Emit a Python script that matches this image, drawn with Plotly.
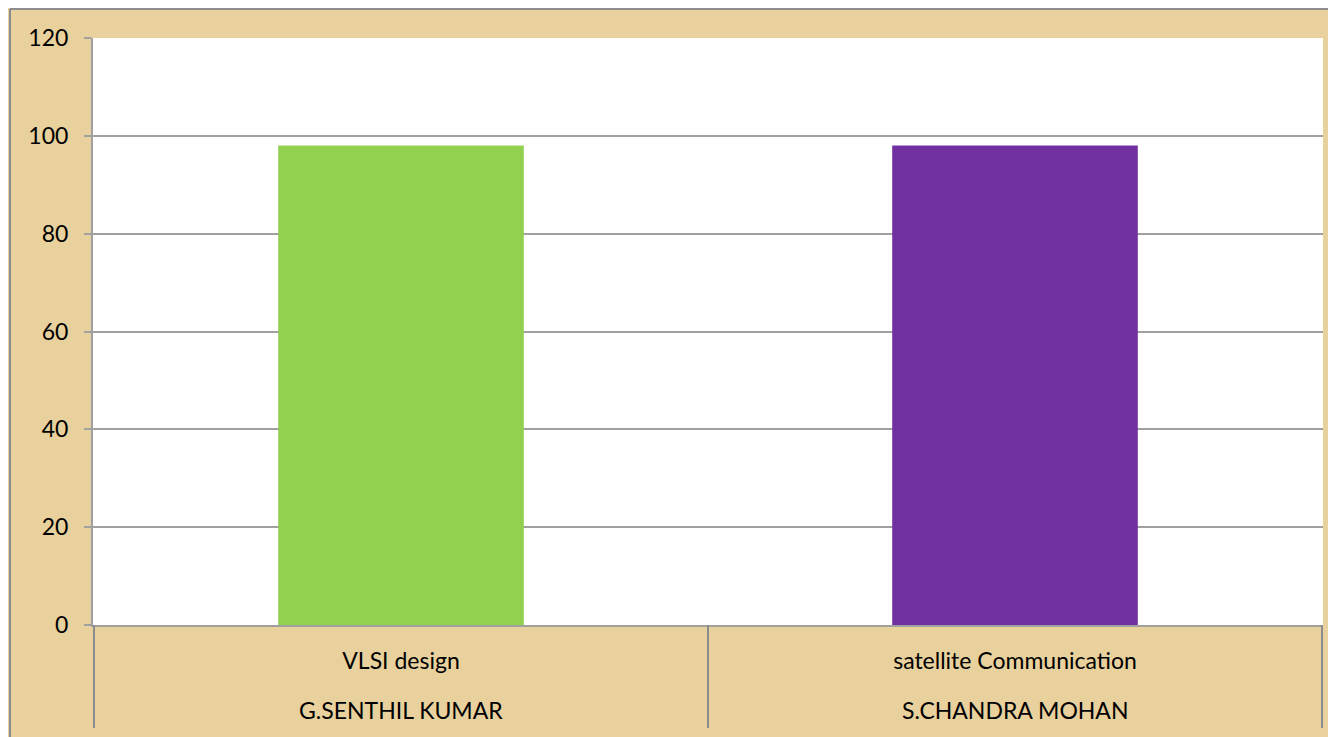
import plotly.graph_objects as go

subjects = ["VLSI design", "satellite Communication"]
staff = ["G.SENTHIL KUMAR", "S.CHANDRA MOHAN"]
scores = [98, 98]
bar_colors = ["#92D050", "#7030A0"]

# page has an 8px body margin; plot area sits at x 93..1323, y 38..625
PLOT_W = 1230
PLOT_H = 587

fig = go.Figure()
fig.add_trace(go.Bar(
    x=subjects,
    y=scores,
    marker=dict(color=bar_colors, line_width=0),
    width=0.4,
))

fig.update_layout(
    width=1328, height=729,
    margin=dict(l=85, r=13, t=30, b=112),
    paper_bgcolor="#E8D19D",
    plot_bgcolor="white",
    font=dict(family="Lato, Open Sans, sans-serif", size=23, color="black"),
    showlegend=False,
)
fig.update_yaxes(
    range=[0, 120], dtick=20,
    showgrid=True, gridcolor="#A0A0A0", gridwidth=2,
    showline=True, linecolor="#A0A0A0", linewidth=2,
    ticks="outside", ticklen=7, tickcolor="#A0A0A0", tickwidth=2,
    ticklabelstandoff=11,
    zeroline=False,
)
fig.update_xaxes(
    type="category",
    showline=True, linecolor="#A0A0A0", linewidth=2,
    ticks="", ticklabelstandoff=14,
)

# second label row (staff names) under each subject
for subj, name in zip(subjects, staff):
    fig.add_annotation(x=subj, xref="x", y=-85 / PLOT_H, yref="paper",
                       text=name, showarrow=False, yanchor="middle",
                       font=dict(size=23))

# category dividers
for xd in [-0.5, 0.5, 1.5]:
    fig.add_shape(type="line", xref="x", yref="paper",
                  x0=xd, x1=xd, y0=0, y1=-103 / PLOT_H,
                  line=dict(color="#8C8C8C", width=2))

# outer chart frame
fx = (10 - 93) / PLOT_W
fy = (625 - 9) / PLOT_H
fig.add_shape(type="line", xref="paper", yref="paper",
              x0=fx, x1=fx, y0=-0.3, y1=fy,
              line=dict(color="#8C8C8C", width=2))
fig.add_shape(type="line", xref="paper", yref="paper",
              x0=fx, x1=1.1, y0=fy, y1=fy,
              line=dict(color="#8C8C8C", width=2))

fig.write_html("out.html")
